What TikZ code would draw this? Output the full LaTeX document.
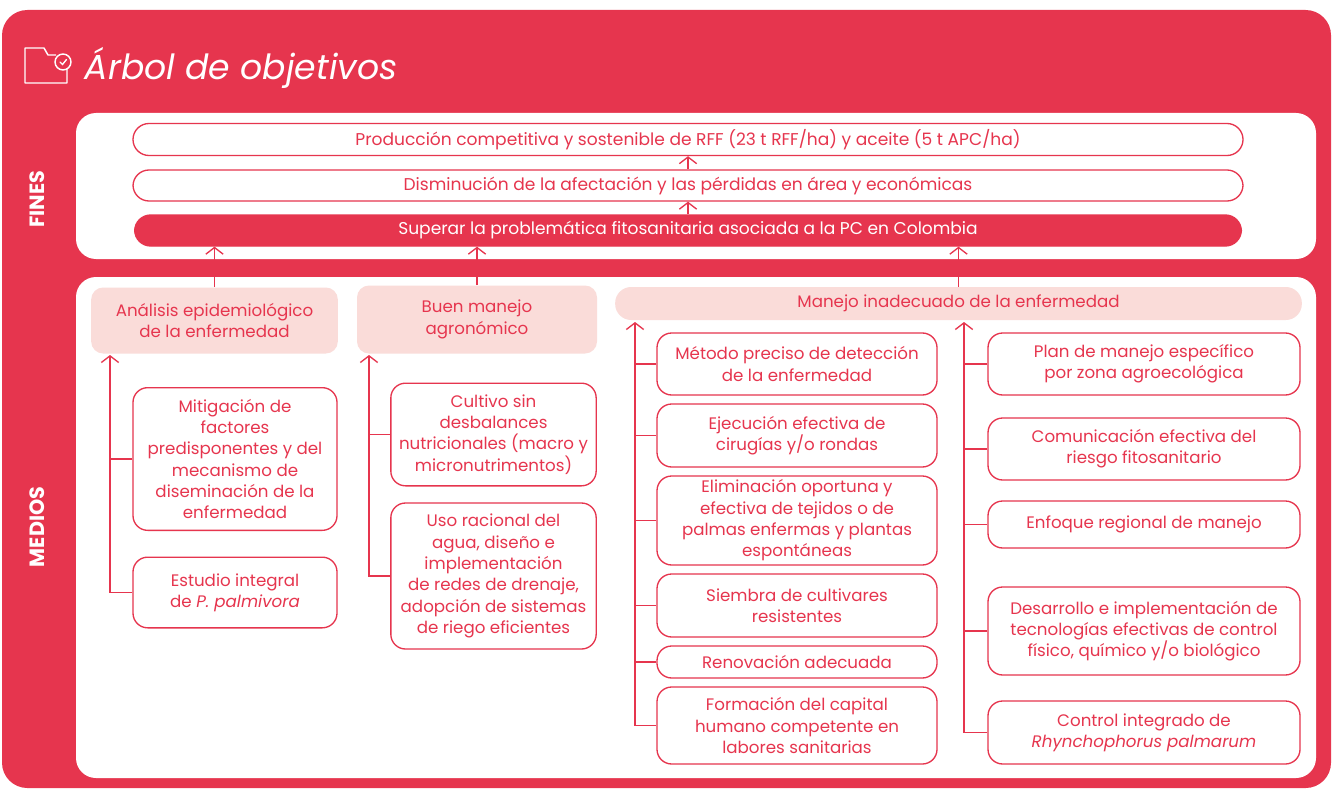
\documentclass[tikz,border=0pt]{standalone}
\usepackage{fontspec}
\setmainfont{Poppins}
\usetikzlibrary{positioning,arrows.meta}
\definecolor{palmred}{HTML}{E6354E}
\definecolor{palmpink}{HTML}{FADCD9}
\tikzset{
	fin/.style={
		draw=palmred,
		line width=1pt,
		fill=white,
		rounded corners=12pt,
		inner sep=0pt,
		minimum width=832.5pt,
		minimum height=24pt,
		text=palmred,
		font=\fontsize{12.8}{15}\selectfont
	},
	fin main/.style={
		fin,
		fill=palmred,
		text=white
	},
	cause/.style={
		fill=palmpink,
		rounded corners=9pt,
		inner sep=0pt,
		align=center,
		text=palmred,
		font=\fontsize{12.5}{16}\selectfont
	},
	means/.style={
		draw=palmred,
		line width=1pt,
		fill=white,
		rounded corners=11pt,
		inner sep=0pt,
		align=center,
		text=palmred,
		font=\fontsize{12.5}{16}\selectfont
	},
	side label/.style={
		rotate=90,
		text=white,
		font=\bfseries\fontsize{15.5}{15.5}\selectfont
	},
	up arrow/.style={
		draw=palmred,
		line width=1pt,
		-{Straight Barb[length=5pt,width=13pt]}
	},
	branch/.style={
		draw=palmred,
		line width=1pt
	}
}
\begin{document}
\begin{tikzpicture}[x=0.75pt,y=-0.75pt]
	\useasboundingbox (0,0) rectangle (1333,788);
	% frame and panels
	\fill[palmred, rounded corners=19pt] (2,10) rectangle (1331,788);
	\fill[white, rounded corners=15pt] (76,113) rectangle (1316,259);
	\fill[white, rounded corners=15pt] (76,277) rectangle (1316,778);
	% title with folder icon
	\draw[white, line width=1.1pt, line join=round] (56,55) -- (48,55) -- (44,48) -- (25,48) -- (25,83) -- (67,83) -- (67,69);
	\draw[white, line width=1.1pt] (63,62) circle[radius=6pt];
	\draw[white, line width=1pt, line cap=round] (60,62) -- (62.5,64.5) -- (66.5,59.5);
	\node[anchor=base west, text=white, font=\itshape\fontsize{26}{26}\selectfont] (title) at (80,80) {Árbol de objetivos};
	\node[side label] (fines) at (37,199) {FINES};
	\node[side label] (medios) at (37,527) {MEDIOS};
	% fines
	\node[fin] (prod) at (688,139.5) {Producción competitiva y sostenible de RFF (23 t RFF/ha) y aceite (5 t APC/ha)};
	\node[fin, minimum height=23.25pt] (dism) at (688,185.5) {Disminución de la afectación y las pérdidas en área y económicas};
	\node[fin main, minimum width=830pt, minimum height=23.25pt] (sup) at (688,230.5) {Superar la problemática fitosanitaria asociada a la PC en Colombia};
	\draw[up arrow] (dism.north) -- (prod.south);
	\draw[up arrow] (sup.north) -- (dism.south);
	% medios: causes
	\node[cause, minimum width=185pt, minimum height=49.5pt] (anal) at (214.5,320.5) {Análisis epidemiológico\\de la enfermedad};
	\node[cause, minimum width=180pt, minimum height=51pt] (buen) at (477,319.5) {Buen manejo\\agronómico};
	\node[cause, rounded corners=12pt, minimum width=515pt, minimum height=24.75pt] (mane) at (958.5,303.5) {Manejo inadecuado de la enfermedad};
	\draw[up arrow] (anal.north) -- (anal.north |- sup.south);
	\draw[up arrow] (buen.north) -- (buen.north |- sup.south);
	\draw[up arrow] (mane.north) -- (mane.north |- sup.south);
	% column A
	\node[means, minimum width=153pt, minimum height=107pt] (miti) at (235,459) {Mitigación de\\factores\\predisponentes y del\\mecanismo de\\diseminación de la\\enfermedad};
	\node[means, minimum width=153pt, minimum height=53pt] (estu) at (235,592.5) {Estudio integral\\de \textit{P. palmivora}};
	\coordinate (spA) at (110,355);
	\draw[up arrow] (estu.west) -| (spA);
	\draw[branch] (miti.west) -- (miti.west -| spA);
	% column B
	\node[means, minimum width=154pt, minimum height=77pt] (cult) at (493.5,434.5) {Cultivo sin\\desbalances\\nutricionales (macro y\\micronutrimentos)};
	\node[means, minimum width=154pt, minimum height=109.5pt] (uso) at (493.5,576) {Uso racional del\\agua, diseño e\\implementación\\de redes de drenaje,\\adopción de sistemas\\de riego eficientes};
	\coordinate (spB) at (369,355);
	\draw[up arrow] (uso.west) -| (spB);
	\draw[branch] (cult.west) -- (cult.west -| spB);
	% column C
	\node[means, minimum width=210pt, minimum height=46.5pt] (meto) at (797,364) {Método preciso de detección\\de la enfermedad};
	\node[means, minimum width=210pt, minimum height=47.25pt] (ejec) at (797,435.5) {Ejecución efectiva de\\cirugías y/o rondas};
	\node[means, minimum width=210pt, minimum height=66.75pt] (elim) at (797,520.5) {Eliminación oportuna y\\efectiva de tejidos o de\\palmas enfermas y plantas\\espontáneas};
	\node[means, minimum width=210pt, minimum height=47.25pt] (siem) at (797,605.5) {Siembra de cultivares\\resistentes};
	\node[means, minimum width=210pt, minimum height=24pt] (reno) at (797,662) {Renovación adecuada};
	\node[means, minimum width=210pt, minimum height=57.75pt] (form) at (797,725.5) {Formación del capital\\humano competente en\\labores sanitarias};
	\coordinate (spC) at (635,322);
	\draw[up arrow] (form.west) -| (spC);
	\foreach \nm in {meto,ejec,elim,siem,reno}
		\draw[branch] (\nm.west) -- (\nm.west -| spC);
	% column D
	\node[means, minimum width=234pt, minimum height=46.5pt] (plan) at (1144,364) {Plan de manejo específico\\por zona agroecológica};
	\node[means, minimum width=234pt, minimum height=46.5pt] (comu) at (1144,449) {Comunicación efectiva del\\riesgo fitosanitario};
	\node[means, minimum width=234pt, minimum height=35.25pt] (enfo) at (1144,524.5) {Enfoque regional de manejo};
	\node[means, minimum width=234pt, minimum height=66pt] (desa) at (1144,631) {Desarrollo e implementación de\\tecnologías efectivas de control\\físico, químico y/o biológico};
	\node[means, minimum width=234pt, minimum height=47.25pt] (ctrl) at (1144,732.5) {Control integrado de\\\textit{Rhynchophorus palmarum}};
	\coordinate (spD) at (964,322);
	\draw[up arrow] (ctrl.west) -| (spD);
	\foreach \nm in {plan,comu,enfo,desa}
		\draw[branch] (\nm.west) -- (\nm.west -| spD);
\end{tikzpicture}
\end{document}
